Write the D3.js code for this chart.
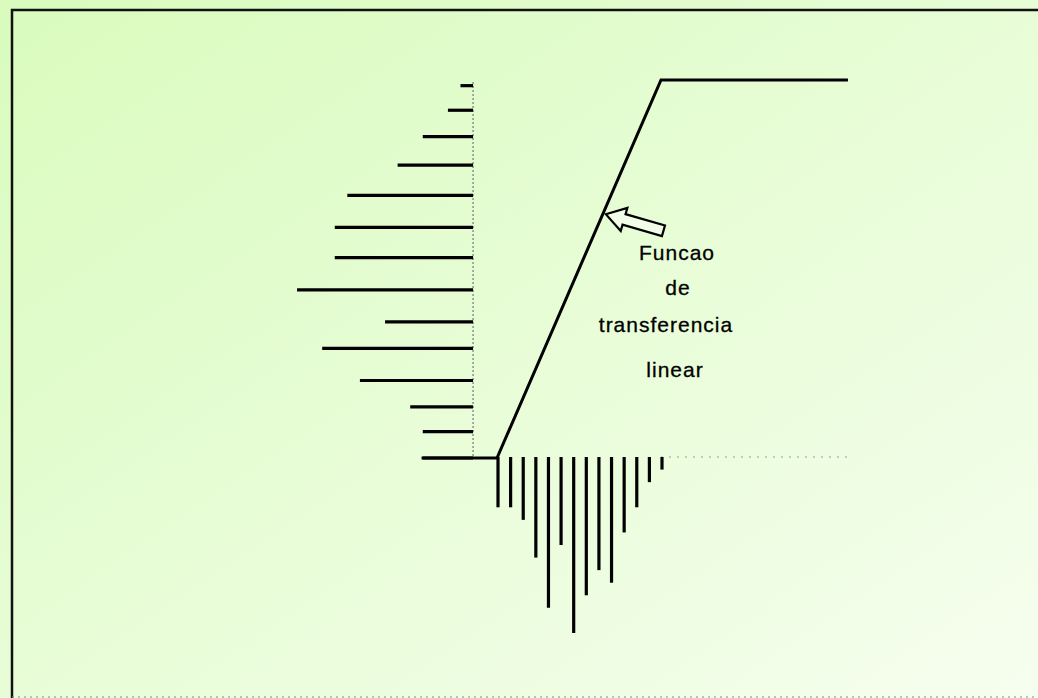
<!DOCTYPE html>
<html>
<head>
<meta charset="utf-8">
<script src="https://cdn.jsdelivr.net/npm/d3@7"></script>
<style>
  body { margin: 0; background: #eefde3; }
  svg { display: block; }
</style>
</head>
<body>
<svg id="chart" width="1038" height="698"></svg>
<script>
// histograma de entrada (barras horizontais, de baixo para cima)
var inLevels = [0, 0.07, 0.135, 0.205, 0.29, 0.36, 0.445, 0.53, 0.61, 0.695, 0.775, 0.85, 0.92, 0.985];
var inCounts = [4, 4, 5, 9, 12, 7, 14, 11, 11, 10, 6, 4, 2, 1];

// histograma de saida (barras verticais, da esquerda para a direita)
var outLevels = [0, 1/13, 2/13, 3/13, 4/13, 5/13, 6/13, 7/13, 8/13, 9/13, 10/13, 11/13, 12/13, 1];
var outCounts = [4, 4, 5, 8, 12, 7, 14, 11, 9, 10, 6, 4, 2, 1];

// funcao de transferencia linear (entrada -> saida)
var tfIn = [-0.46, 0, 1, 2.14];
var tfOut = [0, 0, 1, 1];

var labelLines = ["Funcao", "de", "transferencia", "linear"];

(function() {
  var svg = d3.select("#chart");
  var x = d3.scaleLinear().domain([0, 1]).range([497, 661]);
  var y = d3.scaleLinear().domain([0, 1]).range([458, 80]);
  var len = d3.scaleLinear().domain([0, 14]).range([0, 176]);
  var axisIn = -0.146;

  var defs = svg.append("defs");
  var grad = defs.append("linearGradient").attr("id", "bg")
    .attr("x1", 0).attr("y1", 0).attr("x2", 1).attr("y2", 1);
  grad.append("stop").attr("offset", "0%").attr("stop-color", "#d9fbbd");
  grad.append("stop").attr("offset", "55%").attr("stop-color", "#e9fdd9");
  grad.append("stop").attr("offset", "100%").attr("stop-color", "#f6feef");

  svg.append("rect").attr("width", 1038).attr("height", 698).attr("fill", "url(#bg)");

  // moldura
  svg.append("path").attr("d", "M12,698 V10 H1038")
    .attr("fill", "none").attr("stroke", "#111").attr("stroke-width", 2.5);
  svg.append("line").attr("x1", 12).attr("x2", 1038).attr("y1", 697).attr("y2", 697)
    .attr("stroke", "#888").attr("stroke-width", 1).attr("stroke-dasharray", "2,4");

  // eixos pontilhados
  svg.append("line")
    .attr("x1", x(axisIn)).attr("x2", x(axisIn))
    .attr("y1", y(0.995)).attr("y2", y(0))
    .attr("stroke", "#777").attr("stroke-width", 1.2).attr("stroke-dasharray", "2,2");
  svg.append("line")
    .attr("x1", x(1)).attr("x2", x(tfIn[3]))
    .attr("y1", y(0) - 1).attr("y2", y(0) - 1)
    .attr("stroke", "#999").attr("stroke-width", 1.2).attr("stroke-dasharray", "2,6");

  // barras de entrada
  svg.selectAll("line.hin").data(inLevels).enter().append("line")
    .attr("class", "hin")
    .attr("x1", function(d, i) { return x(axisIn) - len(inCounts[i]); })
    .attr("x2", x(axisIn))
    .attr("y1", function(d) { return y(d); })
    .attr("y2", function(d) { return y(d); })
    .attr("stroke", "#000").attr("stroke-width", 3.2);

  // barras de saida
  svg.selectAll("line.vout").data(outLevels).enter().append("line")
    .attr("class", "vout")
    .attr("x1", function(d) { return x(d) + 1; })
    .attr("x2", function(d) { return x(d) + 1; })
    .attr("y1", y(0) - 1)
    .attr("y2", function(d, i) { return y(0) - 1 + len(outCounts[i]); })
    .attr("stroke", "#000").attr("stroke-width", 3.2);

  // funcao de transferencia
  var line = d3.line()
    .x(function(d, i) { return x(d); })
    .y(function(d, i) { return y(tfOut[i]); });
  svg.append("path").datum(tfIn).attr("d", line)
    .attr("fill", "none").attr("stroke", "#000").attr("stroke-width", 3)
    .attr("stroke-linejoin", "miter");

  // seta apontando para a reta
  var t = 0.645;
  var tip = [x(t) + 3, y(t)];
  var arrow = "M0,0 L19,-12 L19,-5.5 L60,-5.5 L60,5.5 L19,5.5 L19,12 Z";
  svg.append("path").attr("d", arrow)
    .attr("transform", "translate(" + tip[0] + "," + tip[1] + ") rotate(16)")
    .attr("fill", "#f1fde6").attr("stroke", "#000").attr("stroke-width", 2.2)
    .attr("stroke-linejoin", "miter");

  // texto
  var tx = [677, 678, 666, 675];
  var ty = [260, 295, 332, 377];
  svg.selectAll("text.lbl").data(labelLines).enter().append("text")
    .attr("class", "lbl")
    .attr("x", function(d, i) { return tx[i]; })
    .attr("y", function(d, i) { return ty[i]; })
    .attr("text-anchor", "middle")
    .attr("font-family", "Liberation Sans, Arial, sans-serif")
    .attr("font-size", 21)
    .attr("letter-spacing", 1)
    .attr("fill", "#000")
    .attr("stroke", "#000").attr("stroke-width", 0.3)
    .text(function(d) { return d; });
})();
</script>
</body>
</html>
